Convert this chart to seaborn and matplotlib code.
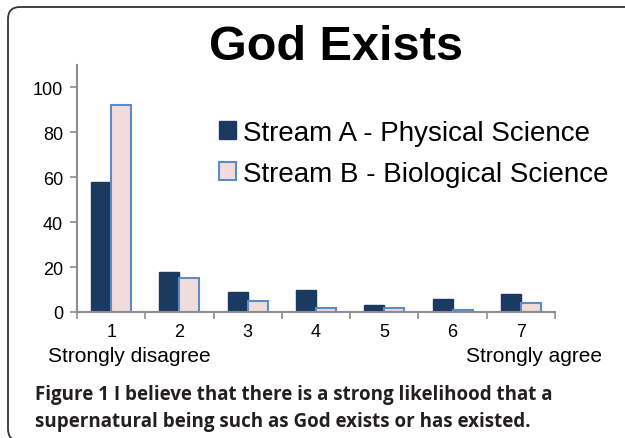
import numpy as np
import pandas as pd
import matplotlib.pyplot as plt
import seaborn as sns
from matplotlib.patches import FancyBboxPatch, Patch
from matplotlib.transforms import IdentityTransform

# data
categories = ["1", "2", "3", "4", "5", "6", "7"]
stream_a = [58, 18, 9, 10, 3, 6, 8]
stream_b = [92, 15, 5, 2, 2, 1, 4]
series_names = ["Stream A - Physical Science", "Stream B - Biological Science"]
y_ticks = [0, 20, 40, 60, 80, 100]

df = pd.DataFrame({
    "rating": categories * 2,
    "count": stream_a + stream_b,
    "stream": [series_names[0]] * len(categories) + [series_names[1]] * len(categories),
})

sns.set_style("white")
plt.rcParams["font.family"] = ["Liberation Sans", "DejaVu Sans"]
plt.rcParams["text.color"] = "black"
plt.rcParams["xtick.labelcolor"] = "black"
plt.rcParams["ytick.labelcolor"] = "black"

W, H = 625, 439
fig = plt.figure(figsize=(W / 100, H / 100), dpi=100)
ax = fig.add_axes([77 / W, 1 - 313 / H, (555 - 77) / W, (313 - 66) / H])

navy = "#1b3a62"
pink = "#f2dcdb"
blue = "#5b8bc9"
grey = "#8c8c8c"

sns.barplot(data=df, x="rating", y="count", hue="stream", palette=[navy, pink],
            width=0.585, saturation=1, legend=False, ax=ax)
for bar in ax.containers[0]:
    bar.set_edgecolor(navy)
    bar.set_linewidth(1.0)
for bar in ax.containers[1]:
    bar.set_edgecolor(blue)
    bar.set_linewidth(1.5)

ax.set_xlim(-0.5, 6.5)
ax.set_ylim(0, 110)
ax.set_yticks(y_ticks)
ax.set_xlabel("")
ax.set_ylabel("")
for s in ["top", "right"]:
    ax.spines[s].set_visible(False)
for s in ["left", "bottom"]:
    ax.spines[s].set_color(grey)
    ax.spines[s].set_linewidth(1.5)

ax.tick_params(axis="y", length=5, width=1.2, color=grey, labelsize=13, pad=5, left=True)
ax.set_xticks(np.arange(-0.5, 7, 1), minor=True)
ax.tick_params(axis="x", which="major", length=0, labelsize=13, pad=8)
ax.tick_params(axis="x", which="minor", length=5, width=1.2, color=grey, direction="out", bottom=True)

handles = [Patch(facecolor=navy, edgecolor=navy),
           Patch(facecolor=pink, edgecolor=blue, linewidth=1.5)]
fig.legend(handles, series_names, loc="upper left", bbox_to_anchor=(219 / W, 1 - 121 / H),
           frameon=False, fontsize=20, handlelength=0.6, handleheight=0.6,
           handletextpad=0.25, labelspacing=0.53, borderpad=0, borderaxespad=0)

fig.text(335.5 / W, 1 - 48 / H, "God Exists", fontsize=35, fontweight="bold",
         ha="center", va="center")
fig.text(129.5 / W, 1 - 357 / H, "Strongly disagree", fontsize=15, ha="center", va="center")
fig.text(533.5 / W, 1 - 357 / H, "Strongly agree", fontsize=15, ha="center", va="center")

# caption
cap_color = "#231f20"
cap_font = ["Open Sans", "DejaVu Sans"]
t1 = fig.text(35 / W, 1 - 400 / H, "Figure 1", fontsize=13.5, fontweight="bold",
              family=cap_font, color=cap_color, va="baseline")
fig.canvas.draw()
bb = t1.get_window_extent()
fig.text((bb.x1 + 5) / W, 1 - 400 / H,
         "I believe that there is a strong likelihood that a",
         fontsize=13.5, fontweight="bold", family=cap_font, color=cap_color, va="baseline")
fig.text(35 / W, 1 - 427 / H, "supernatural being such as God exists or has existed.",
         fontsize=13.5, fontweight="bold", family=cap_font, color=cap_color, va="baseline")

# rounded frame (top and left edges visible)
frame = FancyBboxPatch((8, -3), 660, H - 8 + 3, boxstyle="round,pad=0,rounding_size=12",
                       transform=IdentityTransform(), facecolor="none",
                       edgecolor="#333333", linewidth=1.3)
fig.add_artist(frame)

fig.savefig("out.png", dpi=100)
